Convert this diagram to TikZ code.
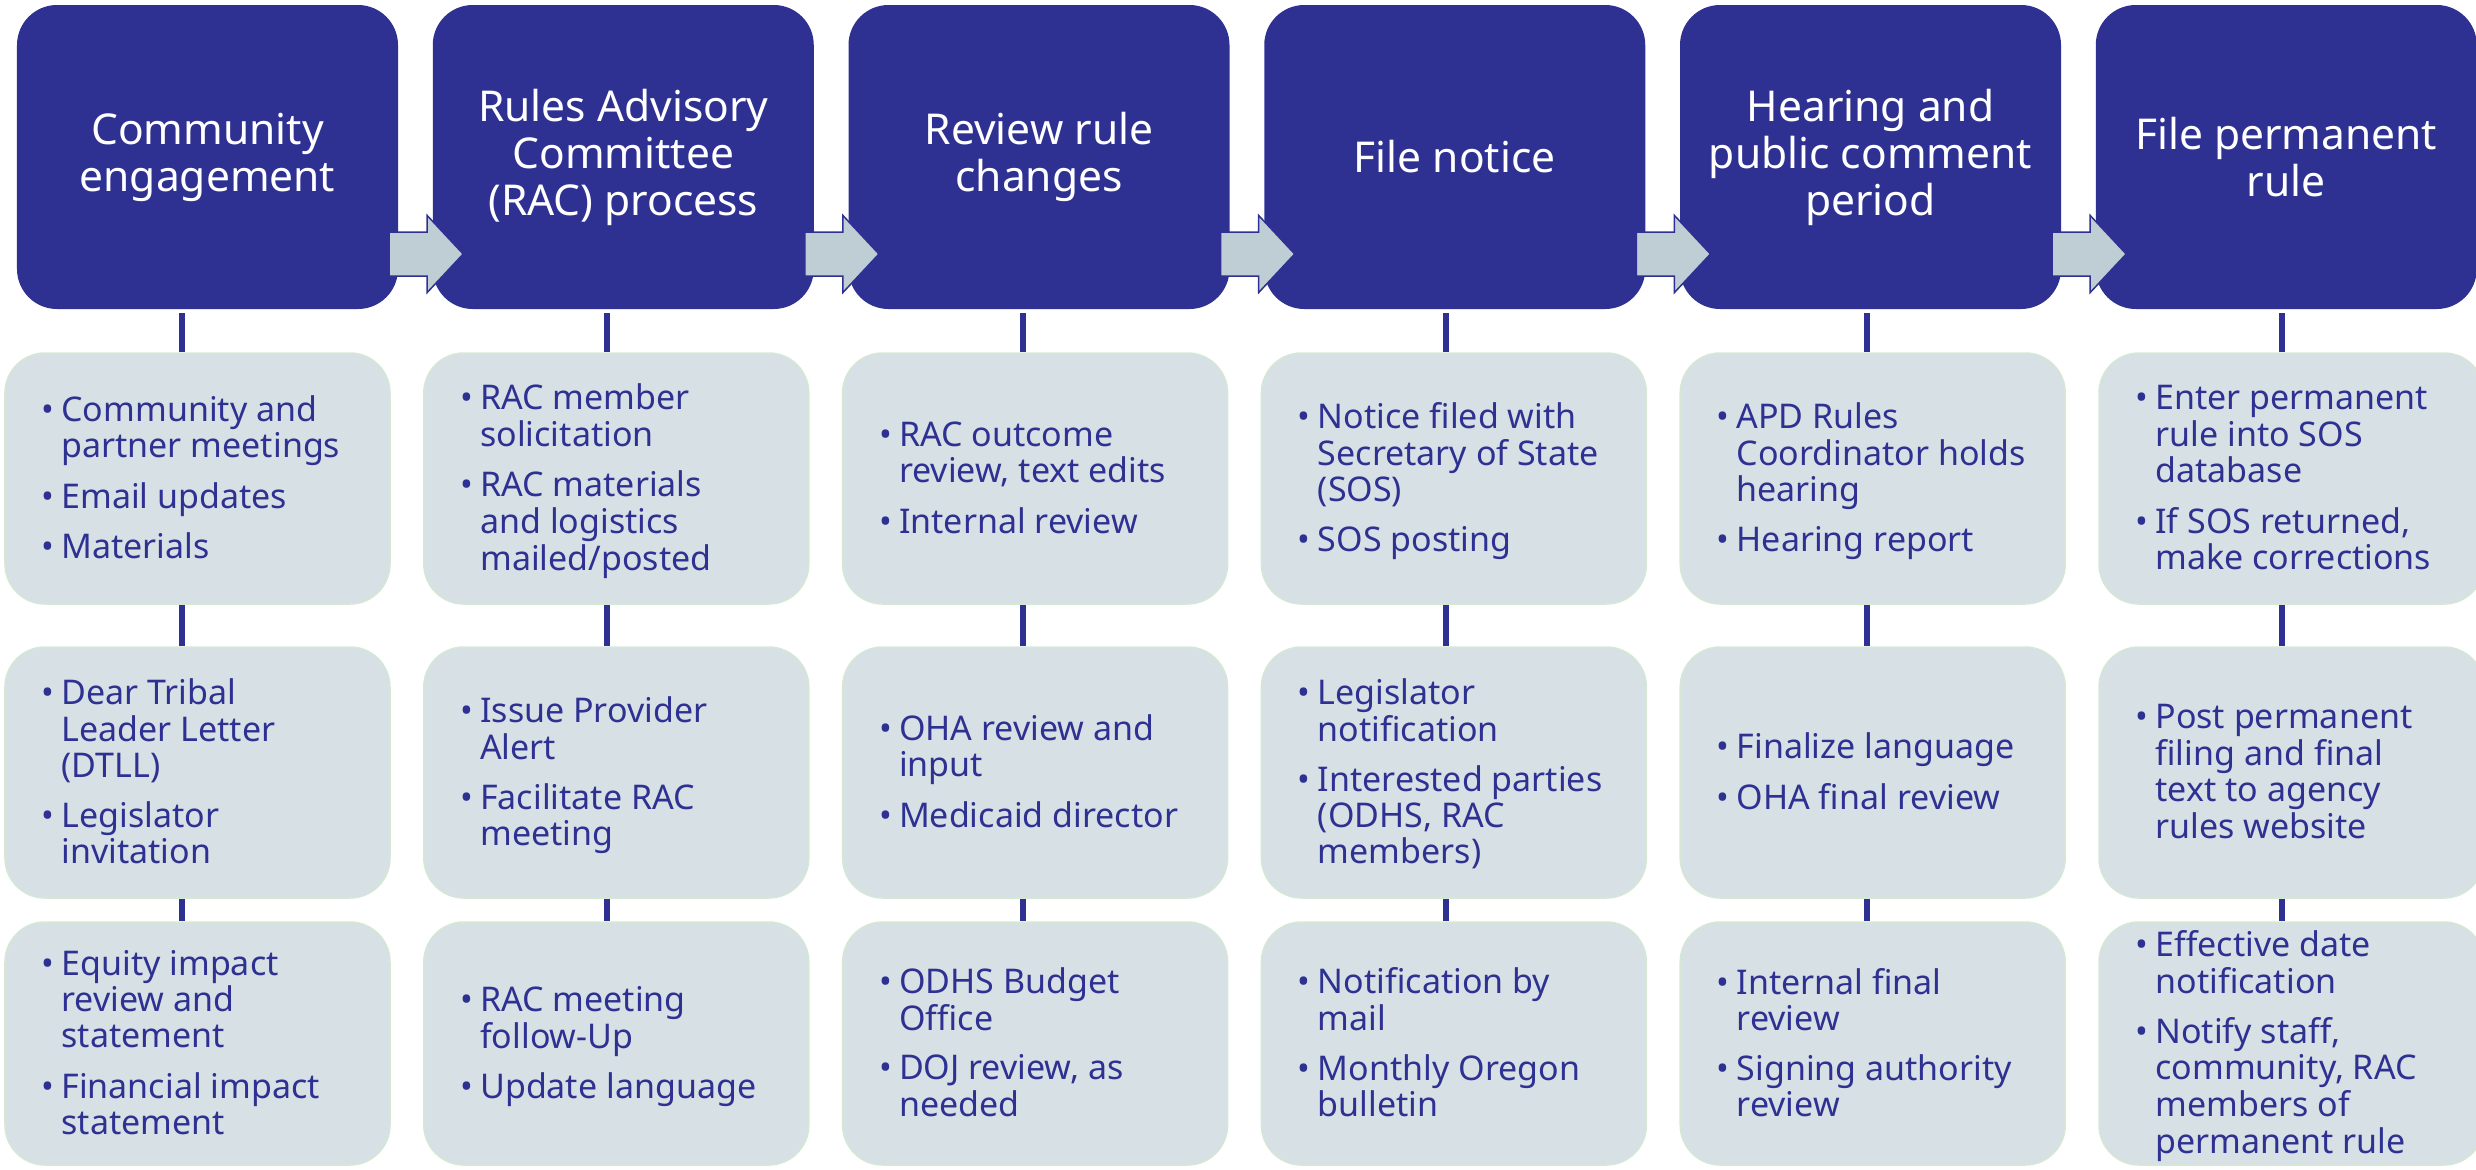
\documentclass[tikz,border=0pt]{standalone}
\usepackage{fontspec}
\setmainfont{Noto Sans}
\usetikzlibrary{calc}
\definecolor{hdr}{HTML}{2E3192}
\definecolor{dfill}{HTML}{D6E0E5}
\definecolor{dline}{HTML}{D5E8D4}
\definecolor{afill}{HTML}{BFCDD4}
\newcommand\bl{\makebox[20bp][l]{\textbullet}}
\newcommand\items[1]{\begin{tabular}{@{}l@{}l@{}}#1\end{tabular}}
\begin{document}
\begin{tikzpicture}[x=1bp,y=-1bp,
  hdrbox/.style={fill=hdr, rounded corners=40bp, minimum width=381bp, minimum height=304bp, inner sep=0pt, text=white, align=center, font=\fontsize{42.5bp}{47bp}\selectfont},
  detbox/.style={fill=dfill, draw=dline, line width=1.5bp, rounded corners=40bp, minimum width=385bp, inner sep=0pt},
  dettext/.style={anchor=west, inner sep=0pt, text=hdr, font=\fontsize{34bp}{36bp}\selectfont},
  conn/.style={draw=hdr, line width=6bp},
  flowarrow/.style={fill=afill, draw=hdr, line width=1.5bp, line join=miter}]
\useasboundingbox (0,0) rectangle (2476,1169);

% detail boxes
\foreach \c/\x in {1/197.5,2/616.3,3/1035.1,4/1453.9,5/1872.7,6/2291.5}{
  \node[detbox, minimum height=251bp] (d\c1) at (\x,478.5) {};
  \node[detbox, minimum height=251bp] (d\c2) at (\x,772.5) {};
  \node[detbox, minimum height=243bp] (d\c3) at (\x,1043.5) {};
}

% header boxes
\node[hdrbox] (h1) at (207.5,157) {Community\\engagement};
\node[hdrbox] (h2) at (623.25,157) {Rules Advisory\\Committee\\(RAC) process};
\node[hdrbox] (h3) at (1039,157) {Review rule\\changes};
\node[hdrbox] (h4) at (1454.75,157) {File notice};
\node[hdrbox] (h5) at (1870.5,157) {Hearing and\\public comment\\period};
\node[hdrbox] (h6) at (2286.25,157) {File permanent\\rule};

% connector lines
\foreach \c/\x in {1/182,2/607,3/1023,4/1446,5/1867,6/2282}{
  \coordinate (lx\c) at (\x,0);
  \draw[conn, shorten <=4bp] (h\c.south -| lx\c) -- (d\c1.north -| lx\c);
  \draw[conn] (d\c1.south -| lx\c) -- (d\c2.north -| lx\c);
  \draw[conn] (d\c2.south -| lx\c) -- (d\c3.north -| lx\c);
}

% arrows between headers
\foreach \i in {1,...,5}{
  \coordinate (ab\i) at ($(h\i.east)+(0,97)$);
  \filldraw[flowarrow] ($(ab\i)+(-9,-22)$) -- ($(ab\i)+(29,-22)$) -- ($(ab\i)+(29,-38.5)$)
    -- ($(ab\i)+(65,0)$) -- ($(ab\i)+(29,38.5)$) -- ($(ab\i)+(29,22)$) -- ($(ab\i)+(-9,22)$) -- cycle;
}

% texts column 1
\node[dettext] (t11) at ($(d11.west)+(37,4)$) {\items{\bl&Community and\\&partner meetings\\[13.5bp]\bl&Email updates\\[13.5bp]\bl&Materials}};
\node[dettext] (t12) at ($(d12.west)+(37,4)$) {\items{\bl&Dear Tribal\\&Leader Letter\\&(DTLL)\\[13.5bp]\bl&Legislator\\&invitation}};
\node[dettext] (t13) at ($(d13.west)+(37,4)$) {\items{\bl&Equity impact\\&review and\\&statement\\[13.5bp]\bl&Financial impact\\&statement}};
% column 2
\node[dettext] (t21) at ($(d21.west)+(37,4)$) {\items{\bl&RAC member\\&solicitation\\[13.5bp]\bl&RAC materials\\&and logistics\\&mailed/posted}};
\node[dettext] (t22) at ($(d22.west)+(37,4)$) {\items{\bl&Issue Provider\\&Alert\\[13.5bp]\bl&Facilitate RAC\\&meeting}};
\node[dettext] (t23) at ($(d23.west)+(37,4)$) {\items{\bl&RAC meeting\\&follow-Up\\[13.5bp]\bl&Update language}};
% column 3
\node[dettext] (t31) at ($(d31.west)+(37,4)$) {\items{\bl&RAC outcome\\&review, text edits\\[13.5bp]\bl&Internal review}};
\node[dettext] (t32) at ($(d32.west)+(37,4)$) {\items{\bl&OHA review and\\&input\\[13.5bp]\bl&Medicaid director}};
\node[dettext] (t33) at ($(d33.west)+(37,4)$) {\items{\bl&ODHS Budget\\&Office\\[13.5bp]\bl&DOJ review, as\\&needed}};
% column 4
\node[dettext] (t41) at ($(d41.west)+(37,4)$) {\items{\bl&Notice filed with\\&Secretary of State\\&(SOS)\\[13.5bp]\bl&SOS posting}};
\node[dettext] (t42) at ($(d42.west)+(37,4)$) {\items{\bl&Legislator\\&notification\\[13.5bp]\bl&Interested parties\\&(ODHS, RAC\\&members)}};
\node[dettext] (t43) at ($(d43.west)+(37,4)$) {\items{\bl&Notification by\\&mail\\[13.5bp]\bl&Monthly Oregon\\&bulletin}};
% column 5
\node[dettext] (t51) at ($(d51.west)+(37,4)$) {\items{\bl&APD Rules\\&Coordinator holds\\&hearing\\[13.5bp]\bl&Hearing report}};
\node[dettext] (t52) at ($(d52.west)+(37,4)$) {\items{\bl&Finalize language\\[13.5bp]\bl&OHA final review}};
\node[dettext] (t53) at ($(d53.west)+(37,4)$) {\items{\bl&Internal final\\&review\\[13.5bp]\bl&Signing authority\\&review}};
% column 6
\node[dettext] (t61) at ($(d61.west)+(37,4)$) {\items{\bl&Enter permanent\\&rule into SOS\\&database\\[13.5bp]\bl&If SOS returned,\\&make corrections}};
\node[dettext] (t62) at ($(d62.west)+(37,4)$) {\items{\bl&Post permanent\\&filing and final\\&text to agency\\&rules website}};
\node[dettext] (t63) at ($(d63.west)+(37,4)$) {\items{\bl&Effective date\\&notification\\[13.5bp]\bl&Notify staff,\\&community, RAC\\&members of\\&permanent rule}};
\end{tikzpicture}
\end{document}
